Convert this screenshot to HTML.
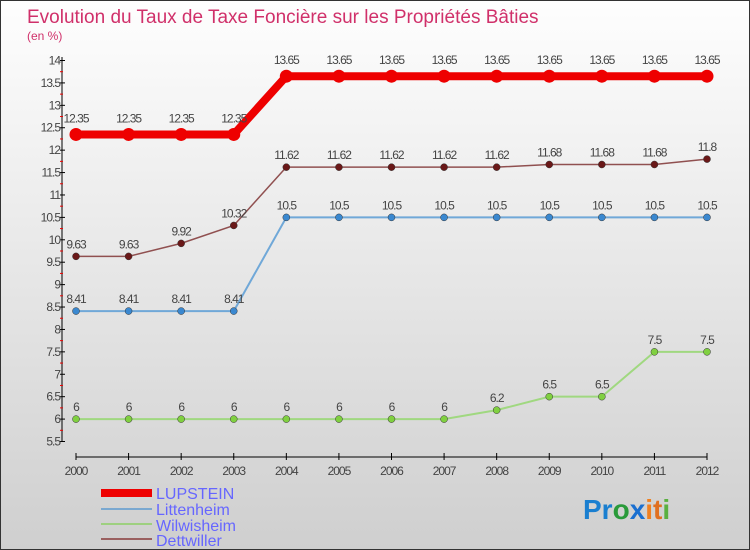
<!DOCTYPE html>
<html><head><meta charset="utf-8"><style>
body{margin:0}
#c{position:relative;width:748px;height:548px;border:1px solid #333;background:linear-gradient(#fefefe,#cfcfcf);font-family:"Liberation Sans",sans-serif;overflow:hidden}
</style></head><body>
<div id="c">
<svg width="748" height="548" font-family="Liberation Sans, sans-serif">
<text x="26" y="22" font-size="19" fill="#d0306a">Evolution du Taux de Taxe Foncière sur les Propriétés Bâties</text>
<text x="26" y="39" font-size="12" fill="#d0306a">(en %)</text>
<g id="axes"></g><g id="series"></g>
<g>
<rect x="100" y="488" width="51" height="8" fill="#e00"/>
<text x="155" y="498" font-size="16" fill="#66f">LUPSTEIN</text>
<rect x="100" y="507" width="51" height="2" fill="#7aa8d0"/>
<text x="155" y="514" font-size="16" fill="#66f">Littenheim</text>
<rect x="100" y="522" width="51" height="2" fill="#9ed080"/>
<text x="155" y="530" font-size="16" fill="#66f">Wilwisheim</text>
<rect x="100" y="537" width="51" height="2" fill="#9a6060"/>
<text x="155" y="545" font-size="16" fill="#66f">Dettwiller</text>
</g>
<text x="582" y="518" font-size="28" font-weight="bold"><tspan fill="#1a7fd0">Pr</tspan><tspan fill="#2a9a3a">o</tspan><tspan fill="#1a6fd0">x</tspan><tspan fill="#f08020">i</tspan><tspan fill="#e07020">t</tspan><tspan fill="#5ab040">i</tspan></text>
</svg></div>
<script>
const years=[2000,2001,2002,2003,2004,2005,2006,2007,2008,2009,2010,2011,2012];
const lupstein=[12.35,12.35,12.35,12.35,13.65,13.65,13.65,13.65,13.65,13.65,13.65,13.65,13.65];
const littenheim=[8.41,8.41,8.41,8.41,10.5,10.5,10.5,10.5,10.5,10.5,10.5,10.5,10.5];
const wilwisheim=[6,6,6,6,6,6,6,6,6.2,6.5,6.5,7.5,7.5];
const dettwiller=[9.63,9.63,9.92,10.32,11.62,11.62,11.62,11.62,11.62,11.68,11.68,11.68,11.8];
const yTicks=[5.5,6,6.5,7,7.5,8,8.5,9,9.5,10,10.5,11,11.5,12,12.5,13,13.5,14];
const NS="http://www.w3.org/2000/svg";
const X=i=>75+i*(706-75)/(years.length-1);
const Y=v=>440.5-(v-5.5)*381/8.5;
function mk(t,a,p){const e=document.createElementNS(NS,t);for(const k in a)e.setAttribute(k,a[k]);p.appendChild(e);return e;}
const ax=document.getElementById('axes');
let l=mk('line',{x1:61,y1:56,x2:61,y2:441,stroke:'#000'},ax);


yTicks.forEach((v,i)=>{
 mk('line',{x1:59,x2:64,y1:Y(v),y2:Y(v),stroke:'#000'},ax);
 if(i<yTicks.length-1)mk('line',{x1:59,x2:62,y1:Y(v+0.25),y2:Y(v+0.25),stroke:'#e00'},ax);
 const t=mk('text',{x:59,y:Y(v)+4,'text-anchor':'end','font-size':12,fill:'#444','letter-spacing':'-1'},ax);
 t.textContent=v;
 
 
});
l=mk('line',{x1:75,y1:456,x2:706,y2:456,stroke:'#000'},ax);


years.forEach((y,i)=>{
 mk('line',{x1:X(i),x2:X(i),y1:452,y2:459,stroke:'#000'},ax);
 const t=mk('text',{x:X(i),y:474,'text-anchor':'middle','font-size':12,fill:'#444','letter-spacing':'-1'},ax);
 t.textContent=y;
 
 
});
const sg=document.getElementById('series');
function draw(name,data,color,w,r,dot){
 const g=mk('g',{},sg);
 
 
 mk('polyline',{points:data.map((v,i)=>X(i)+','+Y(v)).join(' '),fill:'none',stroke:color,'stroke-width':w},g);
 data.forEach((v,i)=>{
  const c=mk('circle',{cx:X(i),cy:Y(v),r:r,fill:dot,stroke:'#333','stroke-width':r>5?0:0.5},g);
  
  
  const t=mk('text',{x:X(i),y:Y(v)-(r>5?12:8),'text-anchor':'middle','font-size':12,fill:'#444','letter-spacing':'-1'},g);
  t.textContent=v;
  
  
 });
}
draw('wilwisheim',wilwisheim,'#a0d880',2,3.5,'#80d040');
draw('littenheim',littenheim,'#70a8d8',2,3.5,'#3a88d0');
draw('dettwiller',dettwiller,'#905050',1.5,3.5,'#6a1818');
draw('lupstein',lupstein,'#ee0000',8,6.5,'#ee0000');
</script>
</body></html>
